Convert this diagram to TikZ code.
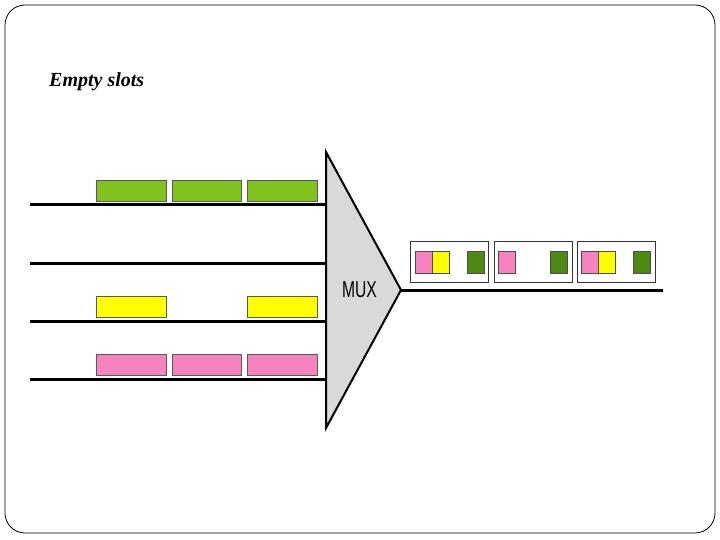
\documentclass[tikz,border=0pt]{standalone}
\usepackage{fontspec}
\setmainfont{Liberation Serif}
\setsansfont{Liberation Sans}
\usetikzlibrary{positioning,calc}
\definecolor{slotGreen}{HTML}{80C21E}
\definecolor{slotYellow}{HTML}{FFFF00}
\definecolor{slotPink}{HTML}{F682C0}
\definecolor{slotDark}{HTML}{4E8A12}
\definecolor{muxGray}{HTML}{D9D9D9}
\tikzset{
  slot/.style={draw=black!65, line width=0.7pt, minimum width=69.5pt, minimum height=21pt,
    inner sep=0pt, anchor=north west, fill=#1},
  cell/.style={draw=black!70, line width=0.7pt, minimum width=17pt, minimum height=22pt,
    inner sep=0pt, anchor=north west, fill=#1},
  frame/.style={draw=black!80, line width=1pt, minimum width=78pt, minimum height=41pt,
    inner sep=0pt, anchor=north west},
  link/.style={line width=3pt},
}

\begin{document}
\begin{tikzpicture}[x=1pt, y=-1pt]
\useasboundingbox (0,0) rectangle (720,540);
% --- page frame
\draw[rounded corners=20pt, line width=0.8pt] (5,5) rectangle (715,533);
\node[anchor=base west, inner sep=0pt, font=\bfseries\itshape\fontsize{20}{20}\selectfont] (title) at (49,87) {Empty slots};
% --- multiplexer
\coordinate (mt) at (326,152);
\coordinate (mb) at (326,428);
\coordinate (ma) at (401,290);
\draw[fill=muxGray, line width=2pt, line join=miter] (mt) -- (ma) -- (mb) -- cycle;
\node[font=\sffamily\fontsize{23}{23}\selectfont, xscale=0.68] (mux) at (359.5,290) {MUX};
% --- input lines
\foreach \yy [count=\i] in {205,263,321,379}{
  \coordinate (in\i) at (30,\yy);
  \coordinate (mi\i) at (326,\yy);
  \draw[link] (in\i) -- (mi\i);
}
\coordinate (out) at (663,290);
\draw[link] (ma) -- (out);
% --- input slots
\foreach \xx [count=\i] in {96,171.5,247}{
  \node[slot=slotGreen] (g\i) at (\xx,180) {};
  \node[slot=slotPink] (p\i) at (\xx,354) {};
}
\node[slot=slotYellow] (y1) at (96,296) {};
\node[slot=slotYellow] (y3) at (247,296) {};
% --- output frames
\foreach \xx [count=\i] in {410,494,577}{
  \node[frame] (f\i) at (\xx,241) {};
}
\node[cell=slotPink] (c1) at (415,251) {};
\node[cell=slotYellow] (c2) at (432,251) {};
\node[cell=slotDark] (c3) at (467,251) {};
\node[cell=slotPink] (c4) at (497.5,251) {};
\node[cell=slotDark] (c5) at (550,251) {};
\node[cell=slotPink] (c6) at (581,251) {};
\node[cell=slotYellow] (c7) at (598,251) {};
\node[cell=slotDark] (c8) at (633,251) {};
\end{tikzpicture}
\end{document}
